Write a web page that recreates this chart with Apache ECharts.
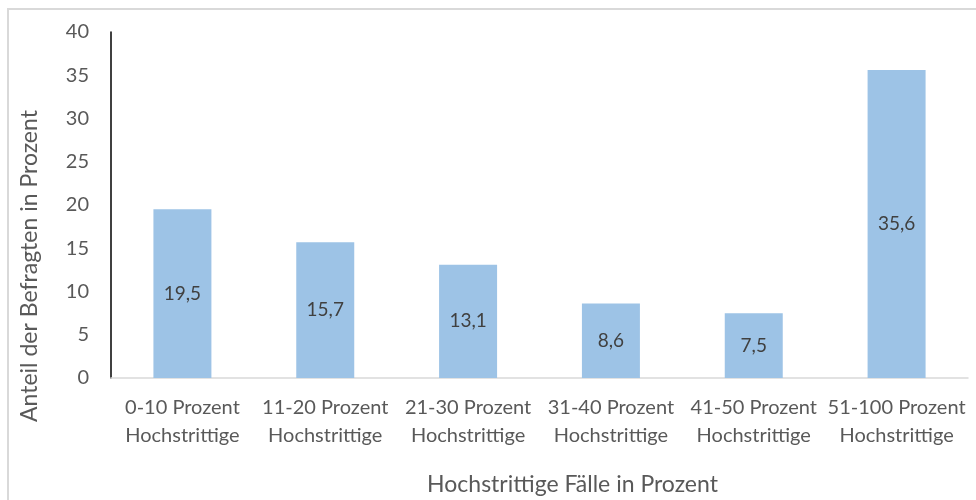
<!DOCTYPE html>
<html>
<head>
<meta charset="utf-8">
<script src="https://cdn.jsdelivr.net/npm/echarts@6/dist/echarts.min.js"></script>
<style>
  html, body { margin: 0; padding: 0; background: #fff; }
  #frame { position: absolute; left: 7px; top: 8px; width: 990px; height: 520px; border: 2px solid #d9d9d9; box-sizing: border-box; }
  #chart { position: absolute; left: 0; top: 0; width: 976px; height: 500px; }
</style>
</head>
<body>
<div id="frame"></div>
<div id="chart"></div>
<script>
// Kategorien und Werte
const categories = [
  '0-10 Prozent\nHochstrittige',
  '11-20 Prozent\nHochstrittige',
  '21-30 Prozent\nHochstrittige',
  '31-40 Prozent\nHochstrittige',
  '41-50 Prozent\nHochstrittige',
  '51-100 Prozent\nHochstrittige'
]
const values = [19.5, 15.7, 13.1, 8.6, 7.5, 35.6]

const font = 'Lato, "Open Sans", sans-serif'
const textColor = '#595959'

let myChart = echarts.init(document.getElementById('chart'))

myChart.setOption({
  animation: false,
  grid: { left: 111, right: 8, top: 32, bottom: 122, outerBoundsMode: 'none' },
  xAxis: {
    type: 'category',
    data: categories,
    name: 'Hochstrittige Fälle in Prozent',
    nameLocation: 'middle',
    nameGap: 95,
    nameTextStyle: { color: textColor, fontSize: 23, fontFamily: font, padding: [0, 0, 0, 66] },
    axisLine: { lineStyle: { color: '#d9d9d9', width: 1.5 } },
    axisTick: { show: false },
    axisLabel: { color: textColor, fontSize: 20, fontFamily: font, lineHeight: 28, margin: 16, interval: 0 }
  },
  yAxis: {
    type: 'value',
    min: 0,
    max: 40,
    interval: 5,
    name: 'Anteil der Befragten in Prozent',
    nameLocation: 'middle',
    nameGap: 70,
    nameTextStyle: { color: textColor, fontSize: 23, fontFamily: font, padding: [0, 122, 0, 0] },
    axisLine: { show: true, lineStyle: { color: '#000', width: 1.5 } },
    axisTick: { show: false },
    splitLine: { show: false },
    axisLabel: { color: textColor, fontSize: 20, fontFamily: font, margin: 22 }
  },
  series: [{
    type: 'bar',
    data: values,
    barWidth: '40.6%',
    itemStyle: { color: '#9dc3e6' },
    label: {
      show: true,
      position: 'inside',
      color: '#404040',
      fontSize: 19,
      fontFamily: font,
      formatter: p => String(p.value).replace('.', ',')
    }
  }]
})
</script>
</body>
</html>
